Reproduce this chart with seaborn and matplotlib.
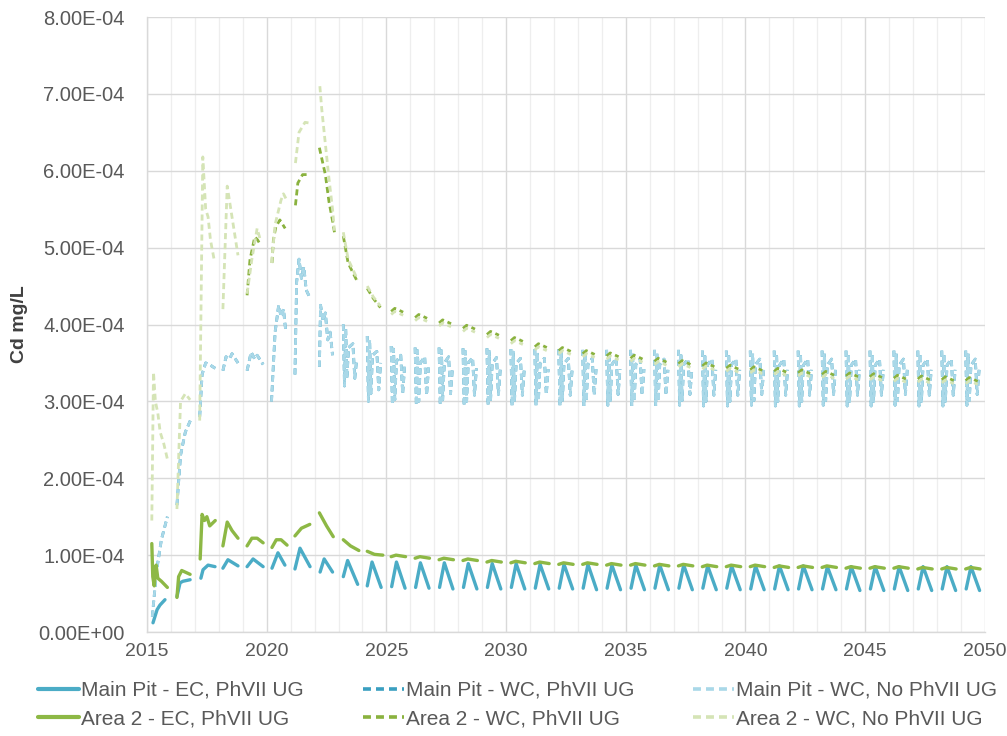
"""Cd concentration over time for Main Pit and Area 2 scenarios."""

import numpy as np
import pandas as pd
import matplotlib
matplotlib.use('Agg')
import matplotlib.pyplot as plt
from matplotlib.lines import Line2D
from matplotlib.ticker import FormatStrFormatter, MultipleLocator
import seaborn as sns

# values below are in units of 1E-04 mg/L
UNIT = 1e-4

# ---- Main Pit - EC, PhVII UG (solid) ----
mp_ec_early_t = [
    [2015.25, 2015.42, 2015.54, 2015.75],
    [2016.25, 2016.38, 2016.5, 2016.8],
    [2017.25, 2017.34, 2017.55, 2017.84],
    [2018.17, 2018.38, 2018.8],
    [2019.18, 2019.43, 2019.85],
    [2020.22, 2020.47, 2020.76],
    [2021.18, 2021.39, 2021.81],
    [2022.23, 2022.4, 2022.75],
    [2023.2, 2023.38, 2023.8],
    [2024.2, 2024.4, 2024.78],
]
mp_ec_early_v = [
    [0.12, 0.29, 0.35, 0.42],
    [0.46, 0.64, 0.66, 0.68],
    [0.70, 0.81, 0.87, 0.85],
    [0.83, 0.94, 0.86],
    [0.85, 0.95, 0.85],
    [0.83, 1.03, 0.87],
    [0.82, 1.09, 0.85],
    [0.78, 0.95, 0.78],
    [0.72, 0.93, 0.62],
    [0.60, 0.91, 0.58],
]
late_years = list(range(2025, 2050))
mp_ec_late_off = [0.22, 0.42, 0.78]
mp_ec_late = [
    [0.59, 0.91, 0.57], [0.58, 0.90, 0.57], [0.58, 0.90, 0.56], [0.58, 0.89, 0.56], [0.58, 0.89, 0.56],
    [0.58, 0.89, 0.56], [0.57, 0.88, 0.56], [0.57, 0.88, 0.56], [0.57, 0.88, 0.55], [0.57, 0.87, 0.55],
    [0.57, 0.87, 0.55], [0.57, 0.87, 0.55], [0.57, 0.87, 0.55], [0.57, 0.86, 0.55], [0.57, 0.86, 0.55],
    [0.56, 0.86, 0.55], [0.56, 0.86, 0.55], [0.56, 0.86, 0.55], [0.56, 0.85, 0.55], [0.56, 0.85, 0.54],
    [0.56, 0.85, 0.54], [0.56, 0.85, 0.54], [0.56, 0.85, 0.54], [0.56, 0.85, 0.54], [0.56, 0.85, 0.54],
]

# ---- Main Pit - WC (PhVII UG and No PhVII UG overlap on the chart) ----
mp_wc_early_t = [
    [2015.22, 2015.4, 2015.6, 2015.85],
    [2016.25, 2016.4, 2016.6, 2016.85],
    [2017.2, 2017.3, 2017.45, 2017.6, 2017.85],
    [2018.17, 2018.3, 2018.45, 2018.55, 2018.8],
    [2019.18, 2019.35, 2019.5, 2019.6, 2019.85],
    [2020.2, 2020.35, 2020.5, 2020.6, 2020.7, 2020.8],
    [2021.18, 2021.25, 2021.35, 2021.45, 2021.55, 2021.65, 2021.8],
    [2022.2, 2022.25, 2022.35, 2022.45, 2022.55, 2022.65, 2022.75],
]
mp_wc_early_v = [
    [0.2, 0.8, 1.2, 1.5],
    [1.65, 2.3, 2.6, 2.78],
    [2.8, 3.35, 3.5, 3.48, 3.43],
    [3.4, 3.58, 3.55, 3.62, 3.5],
    [3.4, 3.64, 3.55, 3.6, 3.48],
    [3.0, 3.9, 4.25, 4.1, 4.2, 3.9],
    [3.35, 4.55, 4.85, 4.6, 4.75, 4.45, 4.35],
    [3.45, 4.25, 4.05, 4.15, 3.8, 3.9, 3.6],
]
mp_wc_years = list(range(2023, 2050))
mp_wc_late_off = [0.2, 0.25, 0.3, 0.35, 0.42, 0.6, 0.68, 0.76]
mp_wc_late = [
    [4.00, 3.20, 3.95, 3.30, 3.70, 3.75, 3.30, 3.55],
    [3.85, 3.00, 3.80, 3.10, 3.60, 3.65, 3.15, 3.50],
    [3.72, 2.96, 3.68, 3.02, 3.52, 3.60, 3.10, 3.45],
    [3.70, 2.95, 3.66, 3.00, 3.50, 3.58, 3.08, 3.44],
    [3.70, 2.95, 3.66, 3.02, 3.50, 3.58, 3.10, 3.44],
    [3.69, 2.94, 3.65, 3.00, 3.50, 3.57, 3.08, 3.43],
    [3.69, 2.95, 3.65, 3.01, 3.49, 3.57, 3.09, 3.43],
    [3.68, 2.94, 3.64, 3.00, 3.49, 3.56, 3.08, 3.42],
    [3.68, 2.95, 3.64, 3.01, 3.49, 3.56, 3.09, 3.42],
    [3.68, 2.94, 3.64, 3.00, 3.49, 3.56, 3.08, 3.42],
    [3.67, 2.94, 3.63, 3.00, 3.48, 3.56, 3.08, 3.42],
    [3.67, 2.95, 3.63, 3.01, 3.48, 3.56, 3.09, 3.42],
    [3.67, 2.94, 3.63, 3.00, 3.48, 3.55, 3.08, 3.42],
    [3.67, 2.94, 3.63, 3.00, 3.48, 3.55, 3.08, 3.41],
    [3.67, 2.95, 3.63, 3.01, 3.48, 3.55, 3.09, 3.41],
    [3.66, 2.94, 3.62, 3.00, 3.48, 3.55, 3.08, 3.41],
    [3.66, 2.94, 3.62, 3.00, 3.48, 3.55, 3.08, 3.41],
    [3.66, 2.95, 3.62, 3.01, 3.48, 3.55, 3.09, 3.41],
    [3.66, 2.94, 3.62, 3.00, 3.47, 3.55, 3.08, 3.41],
    [3.66, 2.94, 3.62, 3.00, 3.47, 3.55, 3.08, 3.41],
    [3.66, 2.95, 3.62, 3.01, 3.47, 3.55, 3.09, 3.41],
    [3.66, 2.94, 3.62, 3.00, 3.47, 3.55, 3.08, 3.41],
    [3.66, 2.94, 3.62, 3.00, 3.47, 3.55, 3.08, 3.41],
    [3.66, 2.95, 3.62, 3.01, 3.47, 3.55, 3.09, 3.41],
    [3.66, 2.94, 3.62, 3.00, 3.47, 3.55, 3.08, 3.41],
    [3.66, 2.94, 3.62, 3.00, 3.47, 3.55, 3.08, 3.41],
    [3.66, 2.95, 3.62, 3.01, 3.47, 3.55, 3.09, 3.41],
]

# ---- Area 2 - EC, PhVII UG (solid) ----
a2_ec_early_t = [
    [2015.2, 2015.24, 2015.3, 2015.38, 2015.45, 2015.6, 2015.85],
    [2016.25, 2016.32, 2016.45, 2016.8],
    [2017.22, 2017.3, 2017.4, 2017.5, 2017.62, 2017.85],
    [2018.17, 2018.35, 2018.55, 2018.8],
    [2019.18, 2019.38, 2019.6, 2019.85],
    [2020.22, 2020.4, 2020.6, 2020.85],
    [2021.18, 2021.45, 2021.8],
    [2022.2, 2022.5, 2022.78],
    [2023.2, 2023.5, 2023.85],
    [2024.2, 2024.5, 2024.85],
]
a2_ec_early_v = [
    [1.15, 0.72, 0.60, 0.87, 0.70, 0.66, 0.58],
    [0.45, 0.72, 0.80, 0.75],
    [0.95, 1.53, 1.45, 1.50, 1.38, 1.45],
    [1.12, 1.43, 1.32, 1.22],
    [1.12, 1.22, 1.22, 1.16],
    [1.10, 1.20, 1.20, 1.13],
    [1.25, 1.35, 1.40],
    [1.55, 1.38, 1.24],
    [1.20, 1.12, 1.06],
    [1.05, 1.01, 1.00],
]
a2_ec_late_off = [0.2, 0.4, 0.6, 0.8]
a2_ec_late = [
    [0.98, 1.00, 0.99, 0.98], [0.96, 0.98, 0.97, 0.96], [0.94, 0.96, 0.95, 0.94],
    [0.93, 0.95, 0.94, 0.93], [0.91, 0.93, 0.92, 0.91], [0.90, 0.92, 0.91, 0.90],
    [0.89, 0.91, 0.90, 0.89], [0.88, 0.90, 0.89, 0.88], [0.88, 0.90, 0.89, 0.88],
    [0.87, 0.89, 0.88, 0.87], [0.87, 0.89, 0.88, 0.87], [0.86, 0.88, 0.87, 0.86],
    [0.86, 0.88, 0.87, 0.86], [0.85, 0.87, 0.86, 0.85], [0.85, 0.87, 0.86, 0.85],
    [0.85, 0.87, 0.86, 0.85], [0.84, 0.86, 0.85, 0.84], [0.84, 0.86, 0.85, 0.84],
    [0.84, 0.86, 0.85, 0.84], [0.83, 0.85, 0.84, 0.83], [0.83, 0.85, 0.84, 0.83],
    [0.83, 0.85, 0.84, 0.83], [0.82, 0.84, 0.83, 0.82], [0.82, 0.84, 0.83, 0.82],
    [0.82, 0.84, 0.83, 0.82],
]

# ---- Area 2 - WC, PhVII UG (dashed) ----
a2_wc_early_t = [
    [2019.18, 2019.3, 2019.5, 2019.62, 2019.75],
    [2020.22, 2020.28, 2020.38, 2020.55, 2020.77],
    [2021.2, 2021.3, 2021.5, 2021.8],
    [2022.2, 2022.45, 2022.6, 2022.75, 2022.83],
    [2023.2, 2023.4, 2023.8],
    [2024.2, 2024.45, 2024.75],
]
a2_wc_early_v = [
    [4.38, 4.84, 5.14, 5.10, 5.03],
    [4.80, 5.10, 5.27, 5.36, 5.25],
    [5.55, 5.84, 5.95, 5.95],
    [6.30, 5.95, 5.60, 5.35, 5.20],
    [5.15, 4.80, 4.55],
    [4.47, 4.34, 4.22],
]
a2_wc_late_off = [0.2, 0.35, 0.5, 0.7]
a2_wc_late = [
    [4.17, 4.21, 4.19, 4.16], [4.09, 4.13, 4.11, 4.08], [4.02, 4.06, 4.04, 4.01],
    [3.95, 3.99, 3.97, 3.94], [3.87, 3.91, 3.89, 3.86], [3.79, 3.83, 3.81, 3.78],
    [3.71, 3.75, 3.73, 3.70], [3.66, 3.70, 3.68, 3.65], [3.62, 3.66, 3.64, 3.61],
    [3.59, 3.63, 3.61, 3.58], [3.56, 3.60, 3.58, 3.55], [3.52, 3.56, 3.54, 3.51],
    [3.49, 3.53, 3.51, 3.48], [3.46, 3.50, 3.48, 3.45], [3.43, 3.47, 3.45, 3.42],
    [3.41, 3.45, 3.43, 3.40], [3.39, 3.43, 3.41, 3.38], [3.37, 3.41, 3.39, 3.36],
    [3.35, 3.39, 3.37, 3.34], [3.33, 3.37, 3.35, 3.32], [3.32, 3.36, 3.34, 3.31],
    [3.30, 3.34, 3.32, 3.29], [3.29, 3.33, 3.31, 3.28], [3.28, 3.32, 3.30, 3.27],
    [3.27, 3.31, 3.29, 3.26],
]

# ---- Area 2 - WC, No PhVII UG (dashed, pale) ----
a2_no_early_t = [
    [2015.2, 2015.27, 2015.35, 2015.45, 2015.55, 2015.7, 2015.85],
    [2016.25, 2016.4, 2016.6, 2016.8],
    [2017.2, 2017.33, 2017.45, 2017.55, 2017.65, 2017.8],
    [2018.17, 2018.35, 2018.5, 2018.8],
    [2019.18, 2019.38, 2019.6, 2019.75],
    [2020.2, 2020.35, 2020.6, 2020.7, 2020.8],
    [2021.2, 2021.35, 2021.6, 2021.8],
    [2022.22, 2022.3, 2022.45, 2022.6, 2022.75, 2022.83],
    [2023.2, 2023.4, 2023.8],
    [2024.2, 2024.45, 2024.75],
]
a2_no_early_v = [
    [1.45, 3.38, 3.00, 2.85, 2.60, 2.45, 2.25],
    [1.60, 3.00, 3.10, 3.02],
    [2.75, 6.18, 5.50, 5.40, 5.10, 4.85],
    [4.20, 5.80, 5.50, 4.90],
    [4.40, 4.85, 5.25, 5.08],
    [4.80, 5.30, 5.62, 5.70, 5.64],
    [6.10, 6.50, 6.63, 6.62],
    [7.10, 6.80, 6.35, 5.90, 5.50, 5.22],
    [5.20, 4.85, 4.58],
    [4.50, 4.36, 4.24],
]
a2_no_late_off = [0.2, 0.35, 0.5, 0.7]
a2_no_late = [
    [4.13, 4.17, 4.15, 4.12], [4.05, 4.09, 4.07, 4.04], [3.98, 4.02, 4.00, 3.97],
    [3.91, 3.95, 3.93, 3.90], [3.83, 3.87, 3.85, 3.82], [3.75, 3.79, 3.77, 3.74],
    [3.67, 3.71, 3.69, 3.66], [3.62, 3.66, 3.64, 3.61], [3.58, 3.62, 3.60, 3.57],
    [3.55, 3.59, 3.57, 3.54], [3.52, 3.56, 3.54, 3.51], [3.48, 3.52, 3.50, 3.47],
    [3.45, 3.49, 3.47, 3.44], [3.42, 3.46, 3.44, 3.41], [3.39, 3.43, 3.41, 3.38],
    [3.37, 3.41, 3.39, 3.36], [3.35, 3.39, 3.37, 3.34], [3.33, 3.37, 3.35, 3.32],
    [3.31, 3.35, 3.33, 3.30], [3.29, 3.33, 3.31, 3.28], [3.28, 3.32, 3.30, 3.27],
    [3.26, 3.30, 3.28, 3.25], [3.25, 3.29, 3.27, 3.24], [3.24, 3.28, 3.26, 3.23],
    [3.23, 3.27, 3.25, 3.22],
]

series_labels = [
    'Main Pit - EC, PhVII UG', 'Main Pit - WC, PhVII UG', 'Main Pit - WC, No PhVII UG',
    'Area 2 - EC, PhVII UG', 'Area 2 - WC, PhVII UG', 'Area 2 - WC, No PhVII UG',
]
series_colors = ['#4BACC6', '#3A9FC0', '#A9D8E8', '#8DB845', '#8AB23E', '#D5E4B6']


def to_frame(early_t, early_v, years, offsets, rows):
    """Long table with one 'seg' id per yearly stretch, so gaps stay open."""
    recs = []
    seg = 0
    for ts, vs in zip(early_t, early_v):
        for t, v in zip(ts, vs):
            recs.append((seg, t, v * UNIT))
        seg += 1
    for yr, vals in zip(years, rows):
        for off, v in zip(offsets, vals):
            recs.append((seg, yr + off, v * UNIT))
        seg += 1
    return pd.DataFrame(recs, columns=['seg', 't', 'cd'])


frames = [
    to_frame(mp_ec_early_t, mp_ec_early_v, late_years, mp_ec_late_off, mp_ec_late),
    to_frame(mp_wc_early_t, mp_wc_early_v, mp_wc_years, mp_wc_late_off, mp_wc_late),
    to_frame(mp_wc_early_t, mp_wc_early_v, mp_wc_years, mp_wc_late_off, mp_wc_late),
    to_frame(a2_ec_early_t, a2_ec_early_v, late_years, a2_ec_late_off, a2_ec_late),
    to_frame(a2_wc_early_t, a2_wc_early_v, late_years, a2_wc_late_off, a2_wc_late),
    to_frame(a2_no_early_t, a2_no_early_v, late_years, a2_no_late_off, a2_no_late),
]
dashed = [False, True, True, False, True, True]

sns.set_theme(style='white')
plt.rcParams['font.family'] = ['Liberation Sans', 'DejaVu Sans']

fig = plt.figure(figsize=(10.07, 7.36), dpi=100)
ax = fig.add_axes([0.146, 0.1413, 0.832, 0.8356])

DASH = (0, (2.2, 1.4))
handles = []
for df, lab, col, dsh in zip(frames, series_labels, series_colors, dashed):
    ls = DASH if dsh else '-'
    lw = 2.0 if dsh else 2.4
    sns.lineplot(data=df, x='t', y='cd', units='seg', estimator=None,
                 color=col, linestyle=ls, linewidth=lw, ax=ax, legend=False)
    handles.append(Line2D([], [], color=col, linestyle=ls, linewidth=lw + 0.6, label=lab))

ax.set_xlim(2015, 2050)
ax.set_ylim(0, 8e-4)
ax.xaxis.set_major_locator(MultipleLocator(5))
ax.xaxis.set_minor_locator(MultipleLocator(1))
ax.yaxis.set_major_locator(MultipleLocator(1e-4))
ax.yaxis.set_major_formatter(FormatStrFormatter('%.2E'))

ax.grid(which='major', color='#D9D9D9', linewidth=1.0)
ax.grid(which='minor', axis='x', color='#EEEEEE', linewidth=0.9)
ax.set_axisbelow(True)
for side in ['top', 'right']:
    ax.spines[side].set_visible(False)
for side in ['left', 'bottom']:
    ax.spines[side].set_color('#D9D9D9')
    ax.spines[side].set_linewidth(1.0)

ax.tick_params(axis='both', which='major', labelcolor='#595959',
               color='#BFBFBF', length=5, width=1, direction='out')
ax.tick_params(axis='x', which='major', labelsize=14, pad=3)
ax.tick_params(axis='y', which='major', labelsize=14.5, pad=11)
ax.tick_params(which='minor', length=0)

ax.set_xlabel('')
ax.set_ylabel('Cd mg/L', fontsize=14, fontweight='bold', color='#404040')
ax.yaxis.set_label_coords(-0.142, 0.5)

# Excel fills the legend row by row: reorder so matplotlib's column fill matches
order = [0, 3, 1, 4, 2, 5]
fig.legend(handles=[handles[i] for i in order], ncol=3, loc='upper left',
           bbox_to_anchor=(0.038, 0.075), frameon=False, fontsize=15,
           labelcolor='#595959', handlelength=1.95, handletextpad=0.1,
           columnspacing=2.85, labelspacing=0.45, borderpad=0, borderaxespad=0)

fig.savefig('out.png', dpi=100)
